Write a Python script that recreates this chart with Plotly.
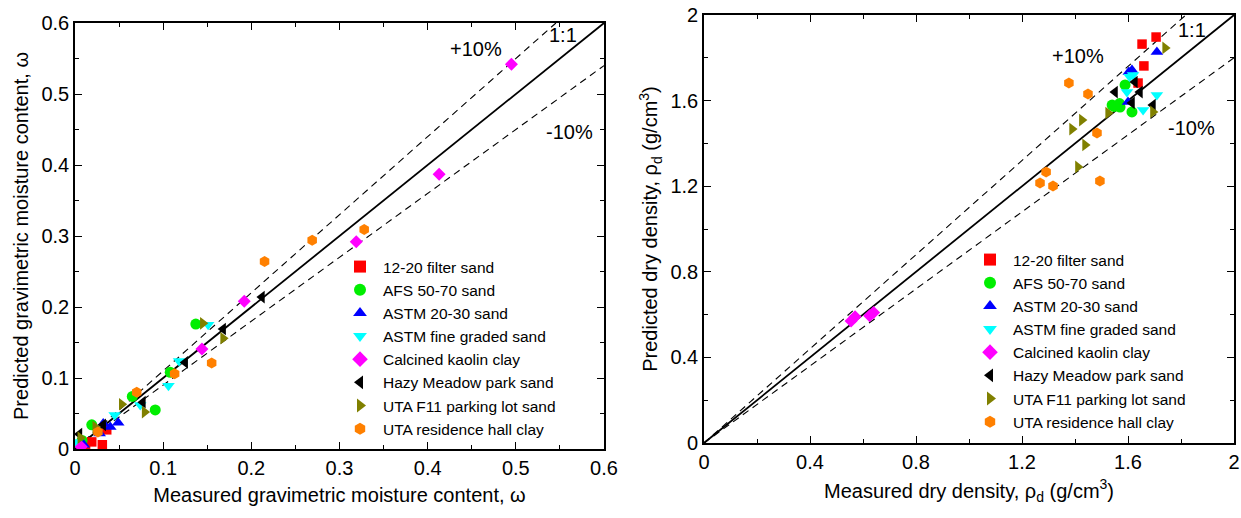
import numpy as np
import plotly.graph_objects as go

# ---- series names, symbols and colours ----
names = ["12-20 filter sand", "AFS 50-70 sand", "ASTM 20-30 sand", "ASTM fine graded sand",
         "Calcined kaolin clay", "Hazy Meadow park sand", "UTA F11 parking lot sand",
         "UTA residence hall clay"]
symbols = ["square", "circle", "triangle-up", "triangle-down", "diamond",
           "triangle-left", "triangle-right", "hexagon"]
sizes = [9.5, 11, 11, 11, 10, 11, 11, 11]
colors = ["#ff0000", "#00ee00", "#0000ff", "#00ffff", "#ff00ff", "#000000", "#808000", "#ff8000"]

# ---- gravimetric moisture content (measured, predicted) ----
w_filter_meas = [0.036, 0.019, 0.031, 0.012]
w_filter_pred = [0.027, 0.010, 0.006, 0.004]
w_afs_meas = [0.137, 0.108, 0.065, 0.091, 0.019, 0.008]
w_afs_pred = [0.176, 0.108, 0.074, 0.055, 0.034, 0.012]
w_astm2030_meas = [0.049, 0.040, 0.032, 0.010, 0.028]
w_astm2030_pred = [0.037, 0.031, 0.036, 0.006, 0.022]
w_astmfine_meas = [0.151, 0.118, 0.106, 0.074, 0.045, 0.001]
w_astmfine_pred = [0.175, 0.124, 0.089, 0.062, 0.048, 0.010]
w_kaolin_meas = [0.495, 0.413, 0.319, 0.192, 0.144, 0.007]
w_kaolin_pred = [0.542, 0.387, 0.292, 0.208, 0.141, 0.003]
w_hazy_meas = [0.212, 0.168, 0.125, 0.077, 0.032, 0.005]
w_hazy_pred = [0.214, 0.169, 0.122, 0.066, 0.034, 0.021]
w_f11_meas = [0.145, 0.168, 0.053, 0.079, 0.023, 0.006]
w_f11_pred = [0.177, 0.156, 0.063, 0.052, 0.031, 0.016]
w_hall_meas = [0.328, 0.269, 0.215, 0.155, 0.113, 0.070, 0.026]
w_hall_pred = [0.309, 0.294, 0.264, 0.121, 0.106, 0.080, 0.024]

# ---- dry density (measured, predicted), g/cm3 ----
d_filter_meas = [1.653, 1.706, 1.660, 1.638]
d_filter_pred = [1.864, 1.897, 1.762, 1.682]
d_afs_meas = [1.540, 1.570, 1.615, 1.589, 1.568, 1.548]
d_afs_pred = [1.579, 1.570, 1.547, 1.673, 1.586, 1.573]
d_astm2030_meas = [1.709, 1.615, 1.600, 1.603]
d_astm2030_pred = [1.827, 1.743, 1.593, 1.734]
d_astmfine_meas = [1.709, 1.657, 1.619, 1.596, 1.606]
d_astmfine_pred = [1.626, 1.556, 1.720, 1.640, 1.711]
d_kaolin_meas = [0.555, 0.570, 0.625, 0.640]
d_kaolin_pred = [0.570, 0.590, 0.595, 0.610]
d_hazy_meas = [1.551, 1.645, 1.615, 1.694, 1.626]
d_hazy_pred = [1.640, 1.640, 1.589, 1.579, 1.687]
d_f11_meas = [1.740, 1.694, 1.525, 1.426, 1.389, 1.438, 1.411]
d_f11_pred = [1.846, 1.547, 1.542, 1.509, 1.467, 1.393, 1.290]
d_hall_meas = [1.377, 1.449, 1.483, 1.291, 1.268, 1.317, 1.494]
d_hall_pred = [1.682, 1.631, 1.449, 1.266, 1.215, 1.201, 1.224]

w_sets = [(w_filter_meas, w_filter_pred), (w_afs_meas, w_afs_pred),
          (w_astm2030_meas, w_astm2030_pred), (w_astmfine_meas, w_astmfine_pred),
          (w_kaolin_meas, w_kaolin_pred), (w_hazy_meas, w_hazy_pred),
          (w_f11_meas, w_f11_pred), (w_hall_meas, w_hall_pred)]
d_sets = [(d_filter_meas, d_filter_pred), (d_afs_meas, d_afs_pred),
          (d_astm2030_meas, d_astm2030_pred), (d_astmfine_meas, d_astmfine_pred),
          (d_kaolin_meas, d_kaolin_pred), (d_hazy_meas, d_hazy_pred),
          (d_f11_meas, d_f11_pred), (d_hall_meas, d_hall_pred)]

w_max = 0.6
d_max = 2.0

FONT = "Liberation Sans, Arial, sans-serif"
W, H = 1241, 518

fig = go.Figure()


def add_reference_lines(xa, ya, vmax):
    # 1:1 line and the +/-10% bounds, clipped to the axis box
    x = np.linspace(0, vmax, 200)
    fig.add_trace(go.Scatter(x=x, y=x, mode="lines", xaxis=xa, yaxis=ya,
                             line=dict(color="black", width=1.8), showlegend=False,
                             hoverinfo="skip"))
    for k in (1.1, 0.9):
        xx = np.linspace(0, min(vmax, vmax / k), 200)
        fig.add_trace(go.Scatter(x=xx, y=k * xx, mode="lines", xaxis=xa, yaxis=ya,
                                 line=dict(color="black", width=1.1, dash="7px,5px"),
                                 showlegend=False, hoverinfo="skip"))


add_reference_lines("x", "y", w_max)
add_reference_lines("x2", "y2", d_max)

for i, (mx, py) in enumerate(w_sets):
    fig.add_trace(go.Scatter(x=mx, y=py, mode="markers", name=names[i], xaxis="x", yaxis="y",
                             marker=dict(symbol=symbols[i], color=colors[i], size=sizes[i],
                                         line=dict(width=0)),
                             legend="legend"))
for i, (mx, py) in enumerate(d_sets):
    fig.add_trace(go.Scatter(x=mx, y=py, mode="markers", name=names[i], xaxis="x2", yaxis="y2",
                             marker=dict(symbol=symbols[i], color=colors[i], size=sizes[i],
                                         line=dict(width=0)),
                             legend="legend2"))


def axis(domain, rng, dtick, minor, title, anchor, standoff):
    return dict(domain=domain, range=rng, dtick=dtick, tick0=0, anchor=anchor,
                ticks="inside", ticklen=7, tickwidth=1.2, tickcolor="black",
                minor=dict(ticks="inside", ticklen=4, dtick=minor, tickwidth=1.2,
                           tickcolor="black"),
                showline=True, linecolor="black", linewidth=1.6, mirror="ticks",
                showgrid=False, zeroline=False,
                tickfont=dict(family=FONT, size=20, color="black"),
                title=dict(text=title, font=dict(family=FONT, size=20, color="black"),
                           standoff=standoff),
                automargin=False)


legend_style = dict(xanchor="left", yanchor="top", bgcolor="rgba(0,0,0,0)",
                    font=dict(family=FONT, size=15.5, color="black"),
                    tracegroupgap=0, itemsizing="constant", itemwidth=36)

fig.update_layout(
    width=W, height=H,
    margin=dict(l=0, r=0, t=0, b=0),
    paper_bgcolor="white", plot_bgcolor="white",
    xaxis=axis([75 / W, 604 / W], [0, w_max], 0.1, 0.05,
               "Measured gravimetric moisture content, ω", "y", 10),
    yaxis=axis([(H - 449) / H, (H - 23) / H], [0, w_max], 0.1, 0.05,
               "Predicted gravimetric moisture content, ω", "x", 7),
    xaxis2=axis([704 / W, 1234 / W], [0, d_max], 0.4, 0.2,
                "Measured dry density, ρ<sub>d</sub> (g/cm<sup>3</sup>)", "y2", 12),
    yaxis2=axis([(H - 443) / H, (H - 15) / H], [0, d_max], 0.4, 0.2,
                "Predicted dry density, ρ<sub>d</sub> (g/cm<sup>3</sup>)", "x2", 7),
    legend=dict(x=337 / W, y=(H - 250) / H, **legend_style),
    legend2=dict(x=967 / W, y=(H - 243) / H, **legend_style),
)

# line labels
labels = [("x", "y", 0.455, 0.563, "+10%"), ("x", "y", 0.553, 0.583, "1:1"),
          ("x", "y", 0.561, 0.446, "-10%"),
          ("x2", "y2", 1.413, 1.81, "+10%"), ("x2", "y2", 1.84, 1.93, "1:1"),
          ("x2", "y2", 1.84, 1.47, "-10%")]
for xa, ya, x, y, t in labels:
    fig.add_annotation(x=x, y=y, xref=xa, yref=ya, text=t, showarrow=False,
                       font=dict(family=FONT, size=20, color="black"))

fig.write_html("out.html")
